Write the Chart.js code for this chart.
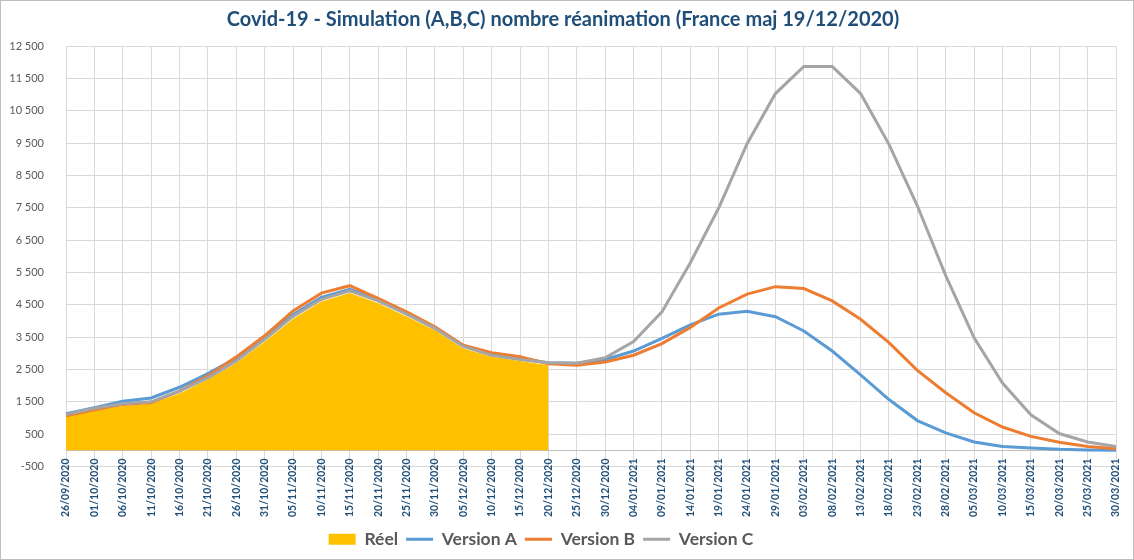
<!DOCTYPE html>
<html>
<head>
<meta charset="utf-8">
<script src="https://cdn.jsdelivr.net/npm/chart.js@4.4.1/dist/chart.umd.min.js"></script>
<style>
  body { margin: 0; background: #fff; }
  #frame { position: absolute; left: 0; top: 0; width: 1134px; height: 560px; box-sizing: border-box; border: 1px solid #BFBFBF; pointer-events: none; }
</style>
</head>
<body>
<canvas id="chart" width="1134" height="560"></canvas>
<div id="frame"></div>
<script>
var labels = ['26/09/2020', '01/10/2020', '06/10/2020', '11/10/2020', '16/10/2020', '21/10/2020', '26/10/2020', '31/10/2020',
    '05/11/2020', '10/11/2020', '15/11/2020', '20/11/2020', '25/11/2020', '30/11/2020', '05/12/2020', '10/12/2020',
    '15/12/2020', '20/12/2020', '25/12/2020', '30/12/2020', '04/01/2021', '09/01/2021', '14/01/2021', '19/01/2021',
    '24/01/2021', '29/01/2021', '03/02/2021', '08/02/2021', '13/02/2021', '18/02/2021', '23/02/2021', '28/02/2021',
    '05/03/2021', '10/03/2021', '15/03/2021', '20/03/2021', '25/03/2021', '30/03/2021'];

var reel = [1060, 1240, 1370, 1440, 1760, 2190, 2700, 3360, 4060, 4600, 4860, 4550, 4140, 3710, 3150, 2890, 2760, 2630,
    null, null, null, null, null, null, null, null, null, null, null, null, null, null, null, null, null, null, null, null];

var versionA = [1130, 1320, 1520, 1620, 1950, 2370, 2850, 3480, 4190, 4730, 4980, 4650, 4230, 3790, 3230, 2960, 2830, 2710,
    2690, 2810, 3070, 3460, 3880, 4210, 4300, 4130, 3690, 3070, 2330, 1570, 920, 540, 260, 120, 70, 30, 10, 5];

var versionB = [1070, 1250, 1420, 1480, 1830, 2300, 2890, 3540, 4310, 4860, 5090, 4700, 4280, 3820, 3250, 3020, 2890, 2680,
    2630, 2730, 2940, 3300, 3800, 4400, 4830, 5060, 5000, 4620, 4050, 3330, 2470, 1780, 1160, 720, 430, 250, 120, 50];

var versionC = [1110, 1300, 1440, 1500, 1830, 2240, 2760, 3430, 4140, 4670, 4930, 4620, 4210, 3770, 3210, 2940, 2810, 2710,
    2690, 2860, 3360, 4280, 5800, 7490, 9480, 11030, 11870, 11870, 11030, 9460, 7560, 5400, 3480, 2080, 1100, 520, 260, 120];

var yTicks = [-500, 0, 500, 1500, 2500, 3500, 4500, 5500, 6500, 7500, 8500, 9500, 10500, 11500, 12500];

function fmt(v) {
    // 12500 -> "12 500"
    var s = String(Math.abs(v)).replace(/\B(?=(\d{3})+(?!\d))/g, ' ');
    return (v < 0 ? '-' : '') + s;
}

function line(label, data, color, order) {
    return {
        type: 'line',
        label: label,
        data: data,
        borderColor: color,
        backgroundColor: color,
        borderWidth: 3,
        pointRadius: 0,
        pointHoverRadius: 0,
        pointStyle: 'line',
        pointBorderWidth: 3,
        pointBorderColor: color,
        tension: 0,
        fill: false,
        order: order
    };
}

// x labels sit a little inside the plot (Excel axis crosses at 0), so draw them by hand
var xLabels = {
    id: 'xLabels',
    afterLayout: function(chart) {
        // legend sits a bit left of centre in the original
        chart.legend.left -= 22;
        chart.legend.right -= 22;
    },
    afterDraw: function(chart) {
        var sx = chart.scales.x;
        var c = chart.ctx;
        var top = chart.chartArea.bottom - 8;
        c.save();
        c.font = 'bold 10.5px Lato';
        c.fillStyle = '#1F4E79';
        c.textAlign = 'right';
        c.textBaseline = 'middle';
        chart.data.labels.forEach(function(l, i) {
            c.save();
            c.translate(sx.getPixelForTick(i), top);
            c.rotate(-Math.PI / 2);
            c.fillText(l, 0, 0);
            c.restore();
        });
        c.restore();
    }
};

Chart.defaults.font.family = 'Lato';

var ctx = document.getElementById('chart');
var myChart = new Chart(ctx, {
    type: 'line',
    data: {
        labels: labels,
        datasets: [{
                label: 'Réel',
                data: reel,
                borderWidth: 0,
                borderColor: 'rgba(0,0,0,0)',
                backgroundColor: '#FFC000',
                pointRadius: 0,
                pointStyle: 'rect',
                pointBackgroundColor: '#FFC000',
                pointBorderWidth: 0,
                fill: 'origin',
                spanGaps: false,
                tension: 0,
                order: 4
            },
            line('Version A', versionA, '#5B9BD5', 3),
            line('Version B', versionB, '#ED7D31', 2),
            line('Version C', versionC, '#A5A5A5', 1)
        ]
    },
    plugins: [xLabels],
    options: {
        responsive: false,
        animation: false,
        layout: { padding: { left: 10, right: 18, top: 4, bottom: 2 } },
        plugins: {
            title: {
                display: true,
                text: 'Covid-19 - Simulation (A,B,C) nombre réanimation (France maj 19/12/2020)',
                color: '#1F4E79',
                font: { size: 20, weight: 'bold' },
                padding: { top: 4, bottom: 14 }
            },
            legend: {
                position: 'bottom',
                labels: {
                    usePointStyle: true,
                    pointStyleWidth: 27,
                    boxHeight: 11,
                    padding: 8,
                    color: '#595959',
                    font: { size: 17.5, weight: 'bold' },
                    sort: function(a, b) { return a.datasetIndex - b.datasetIndex; }
                }
            },
            tooltip: { enabled: false }
        },
        scales: {
            x: {
                offset: false,
                grid: { color: '#D9D9D9', drawTicks: false },
                border: { color: '#D9D9D9' },
                ticks: { display: false, autoSkip: false },
                afterFit: function(s) { s.height = 56; }
            },
            y: {
                min: -500,
                max: 12500,
                afterBuildTicks: function(scale) {
                    scale.ticks = yTicks.map(function(v) { return { value: v }; });
                },
                afterFit: function(s) { s.width = 56; },
                grid: {
                    drawTicks: false,
                    color: function(c) { return c.tick && c.tick.value === 0 ? '#BFBFBF' : '#D9D9D9'; }
                },
                border: { color: '#D9D9D9' },
                ticks: {
                    padding: 22,
                    color: '#595959',
                    font: { size: 11 },
                    callback: function(v) { return v === 0 ? '' : fmt(v); }
                }
            }
        }
    }
});
</script>
</body>
</html>
